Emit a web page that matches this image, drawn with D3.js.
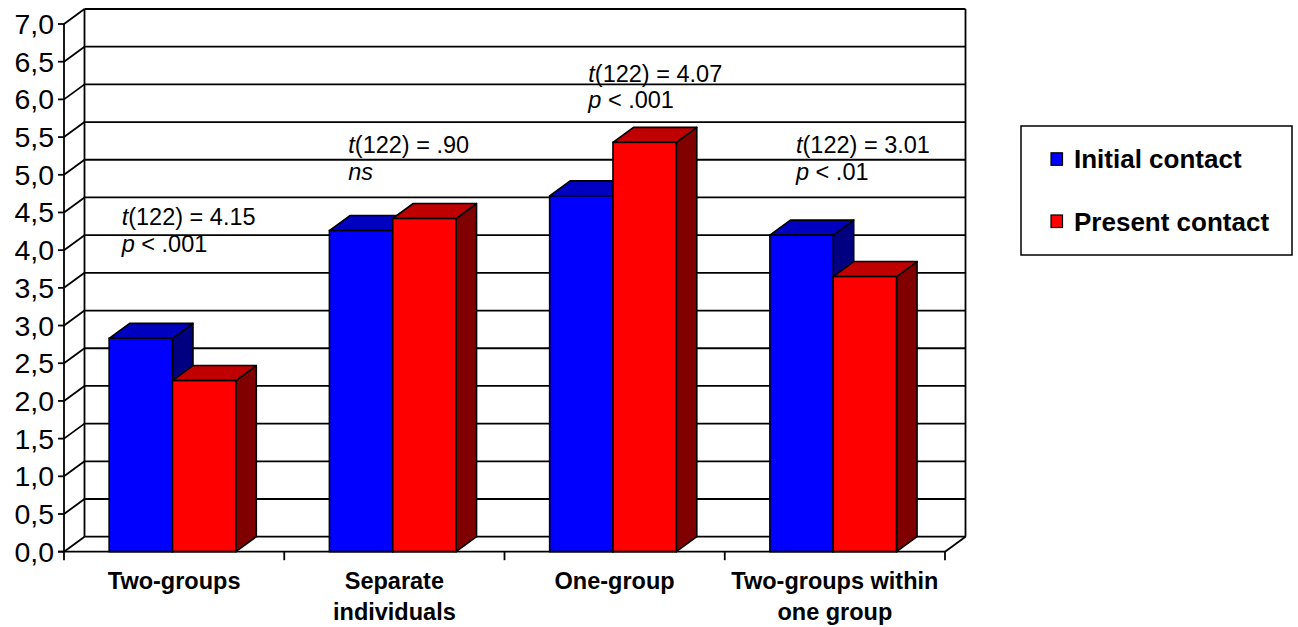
<!DOCTYPE html>
<html>
<head>
<meta charset="utf-8">
<script src="https://cdn.jsdelivr.net/npm/d3@7"></script>
<style>
  html, body { margin: 0; padding: 0; background: #fff; }
  svg { display: block; }
  text { font-family: "Liberation Sans", Arial, Helvetica, sans-serif; fill: #000; }
</style>
</head>
<body>
<svg id="chart" width="1298" height="627"></svg>
<script>
const categories = [["Two-groups"], ["Separate", "individuals"], ["One-group"], ["Two-groups within", "one group"]];
const seriesNames = ["Initial contact", "Present contact"];
const initialContact = [2.83, 4.26, 4.72, 4.20];
const presentContact = [2.27, 4.42, 5.43, 3.65];
const yTicks = [0, 0.5, 1, 1.5, 2, 2.5, 3, 3.5, 4, 4.5, 5, 5.5, 6, 6.5, 7];
const annotations = [
  { cat: 0, line1: ["t", "(122) = 4.15"], line2: [["p", true], [" < .001", false]] },
  { cat: 1, line1: ["t", "(122) = .90"], line2: [["ns", true]] },
  { cat: 2, line1: ["t", "(122) = 4.07"], line2: [["p", true], [" < .001", false]] },
  { cat: 3, line1: ["t", "(122) = 3.01"], line2: [["p", true], [" < .01", false]] }
];

const faceColors = [
  { front: "#0000FF", top: "#0000C0", side: "#000080" },
  { front: "#FF0000", top: "#C00000", side: "#800000" }
];

const svg = d3.select("#chart");
const DX = 20.5, DY = -15;
const left = 64, right = 945;

const y = d3.scaleLinear().domain([0, 7]).range([551.7, 24]);
const x0 = d3.scaleBand().domain(d3.range(categories.length)).range([left, right]).padding(0);
const bw = x0.bandwidth();
const x1 = d3.scaleBand().domain(d3.range(seriesNames.length)).range([bw * 0.205, bw * 0.78]).padding(0);

const g = svg.append("g");
const lineW = 1.8;

// back wall gridlines
yTicks.forEach(t => {
  g.append("line")
    .attr("x1", left + DX).attr("x2", right + DX)
    .attr("y1", y(t) + DY).attr("y2", y(t) + DY)
    .attr("stroke", "#000").attr("stroke-width", lineW);
  g.append("line")
    .attr("x1", left).attr("y1", y(t))
    .attr("x2", left + DX).attr("y2", y(t) + DY)
    .attr("stroke", "#000").attr("stroke-width", lineW);
});
g.append("line").attr("x1", left + DX).attr("x2", left + DX)
  .attr("y1", y(7) + DY).attr("y2", y(0) + DY).attr("stroke", "#000").attr("stroke-width", lineW);
g.append("line").attr("x1", right + DX).attr("x2", right + DX)
  .attr("y1", y(7) + DY).attr("y2", y(0) + DY).attr("stroke", "#000").attr("stroke-width", lineW);
g.append("line").attr("x1", right).attr("y1", y(0))
  .attr("x2", right + DX).attr("y2", y(0) + DY).attr("stroke", "#000").attr("stroke-width", lineW);

// annotations
const annX = [121.7, 348.3, 588.3, 796];
const annY = [225, 153.3, 81.7, 153.3];
annotations.forEach((a, i) => {
  const t1 = g.append("text").attr("x", annX[i]).attr("y", annY[i]).attr("font-size", 23.5);
  t1.append("tspan").attr("font-style", "italic").text(a.line1[0]);
  t1.append("tspan").text(a.line1[1]);
  const t2 = g.append("text").attr("x", annX[i]).attr("y", annY[i] + 26.7).attr("font-size", 23.5);
  a.line2.forEach(p => t2.append("tspan").attr("font-style", p[1] ? "italic" : "normal").text(p[0]));
});

// bars
const allSeries = [initialContact, presentContact];
categories.forEach((c, ci) => {
  allSeries.forEach((vals, si) => {
    const xl = x0(ci) + x1(si);
    const xr = xl + x1.bandwidth();
    const yt = y(vals[ci]);
    const yb = y(0);
    const col = faceColors[si];
    const bg = g.append("g");
    bg.append("path")
      .attr("d", `M${xr},${yt} L${xr + DX},${yt + DY} L${xr + DX},${yb + DY} L${xr},${yb} Z`)
      .attr("fill", col.side).attr("stroke", "#000").attr("stroke-width", 1.6).attr("stroke-linejoin", "round");
    bg.append("path")
      .attr("d", `M${xl},${yt} L${xl + DX},${yt + DY} L${xr + DX},${yt + DY} L${xr},${yt} Z`)
      .attr("fill", col.top).attr("stroke", "#000").attr("stroke-width", 1.6).attr("stroke-linejoin", "round");
    bg.append("rect")
      .attr("x", xl).attr("y", yt).attr("width", xr - xl).attr("height", yb - yt)
      .attr("fill", col.front).attr("stroke", "#000").attr("stroke-width", 1.6);
  });
});

// front axis
g.append("line").attr("x1", left).attr("x2", left).attr("y1", y(7)).attr("y2", y(0))
  .attr("stroke", "#000").attr("stroke-width", lineW);
g.append("line").attr("x1", left - 6).attr("x2", right).attr("y1", y(0)).attr("y2", y(0))
  .attr("stroke", "#000").attr("stroke-width", lineW);

yTicks.forEach(t => {
  g.append("line").attr("x1", left - 6).attr("x2", left).attr("y1", y(t)).attr("y2", y(t))
    .attr("stroke", "#000").attr("stroke-width", lineW);
  g.append("text").attr("x", 54).attr("y", y(t)).attr("dy", "0.35em")
    .attr("text-anchor", "end").attr("font-size", 28.5)
    .text(d3.format(".1f")(t).replace(".", ","));
});

d3.range(categories.length + 1).forEach(i => {
  const xx = i < categories.length ? x0(i) : right;
  g.append("line").attr("x1", xx).attr("x2", xx).attr("y1", y(0)).attr("y2", y(0) + 8.5)
    .attr("stroke", "#000").attr("stroke-width", lineW);
});

categories.forEach((lines, ci) => {
  const cx = x0(ci) + bw / 2;
  lines.forEach((ln, li) => {
    g.append("text").attr("x", cx).attr("y", 588.5 + li * 31)
      .attr("text-anchor", "middle").attr("font-size", 23.5).attr("font-weight", "bold")
      .text(ln);
  });
});

// legend
const lg = svg.append("g");
lg.append("rect").attr("x", 1021).attr("y", 126).attr("width", 271).attr("height", 129)
  .attr("fill", "#fff").attr("stroke", "#000").attr("stroke-width", 1.5);
seriesNames.forEach((s, i) => {
  const by = 168.3 + i * 62.2;
  lg.append("rect").attr("x", 1051).attr("y", by - 15.5).attr("width", 11.5).attr("height", 12.5)
    .attr("fill", faceColors[i].front).attr("stroke", "#000").attr("stroke-width", 1.2);
  lg.append("text").attr("x", 1074).attr("y", by).attr("font-size", 26).attr("font-weight", "bold")
    .text(s);
});
</script>
</body>
</html>
